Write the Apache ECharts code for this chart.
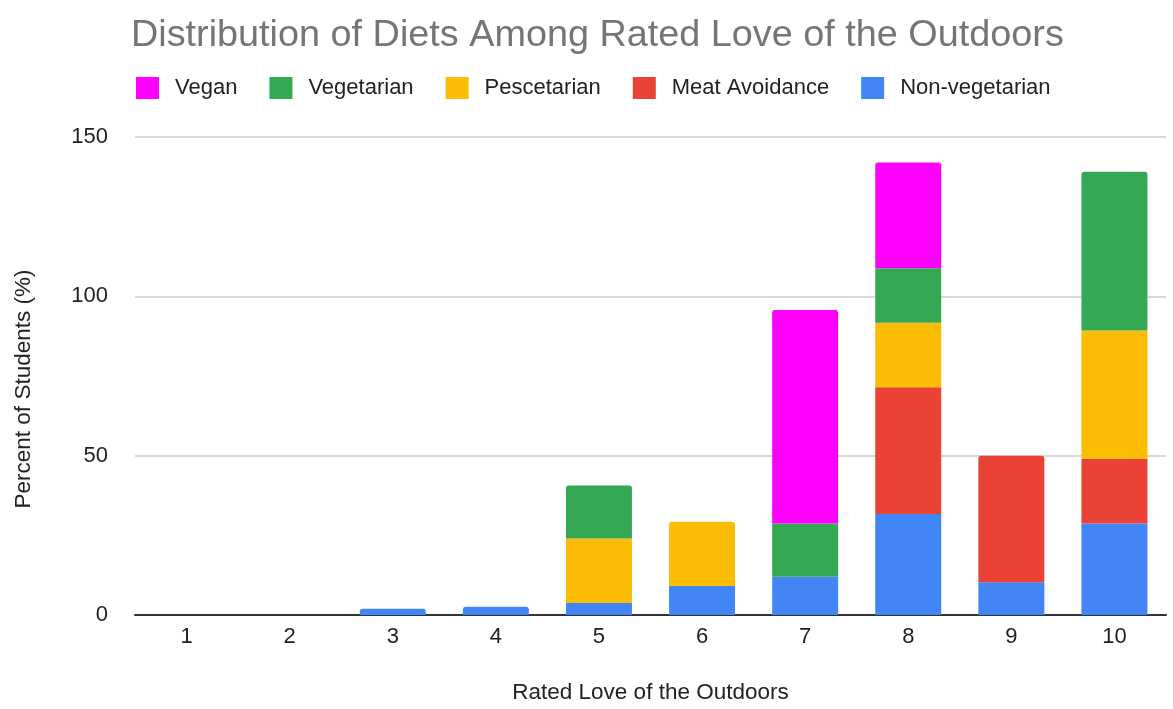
<!DOCTYPE html>
<html>
<head>
<meta charset="utf-8">
<script src="https://cdn.jsdelivr.net/npm/echarts@6/dist/echarts.min.js"></script>
<style>html,body{margin:0;padding:0;background:#fff}#c{width:1173px;height:709px}</style>
</head>
<body>
<div id="c"></div>
<script>
const categories = ['1','2','3','4','5','6','7','8','9','10'];
const nonVegetarian = [0, 0, 2.0, 2.6, 3.8, 9.1, 12.0, 31.7, 10.3, 28.7];
const meatAvoidance = [0, 0, 0, 0, 0, 0, 0, 39.8, 39.7, 20.3];
const pescetarian   = [0, 0, 0, 0, 20.2, 20.2, 0, 20.2, 0, 40.3];
const vegetarian    = [0, 0, 0, 0, 16.6, 0, 16.7, 17.1, 0, 49.8];
const vegan         = [0, 0, 0, 0, 0, 0, 67.0, 33.2, 0, 0];
const yTicks = [0, 50, 100, 150];

const FONT = '"Liberation Sans", Arial, sans-serif';
const seriesDefs = [
  { name: 'Non-vegetarian', data: nonVegetarian, color: '#4285f4' },
  { name: 'Meat Avoidance', data: meatAvoidance, color: '#ea4335' },
  { name: 'Pescetarian', data: pescetarian, color: '#fbbc04' },
  { name: 'Vegetarian', data: vegetarian, color: '#34a853' },
  { name: 'Vegan', data: vegan, color: '#ff00ff' }
];
const topIdx = categories.map((_, i) => {
  let t = -1;
  seriesDefs.forEach((s, k) => { if (s.data[i] > 0) t = k; });
  return t;
});

const chart = echarts.init(document.getElementById('c'));
chart.setOption({
  animation: false,
  backgroundColor: '#fff',
  title: {
    text: 'Distribution of Diets Among Rated Love of the Outdoors',
    left: 126, top: 12,
    textStyle: { fontFamily: FONT, fontSize: 37.8, fontWeight: 'normal', color: '#757575' }
  },
  legend: {
    data: ['Vegan', 'Vegetarian', 'Pescetarian', 'Meat Avoidance', 'Non-vegetarian'],
    left: 131, top: 72,
    itemWidth: 23, itemHeight: 22, itemGap: 32,
    icon: 'rect',
    textStyle: { fontFamily: FONT, fontSize: 22, color: '#222', padding: [0, 0, 0, 11] }
  },
  grid: { left: 135, right: 7, top: 137, bottom: 89, containLabel: false },
  xAxis: {
    type: 'category',
    data: categories,
    name: 'Rated Love of the Outdoors',
    nameLocation: 'middle', nameGap: 66,
    nameTextStyle: { fontFamily: FONT, fontSize: 22.5, color: '#222' },
    axisLine: { lineStyle: { color: '#333', width: 2 } },
    axisTick: { show: false },
    axisLabel: { fontFamily: FONT, fontSize: 22, color: '#222', margin: 11 }
  },
  yAxis: {
    type: 'value',
    min: yTicks[0], max: yTicks[yTicks.length - 1], interval: 50,
    name: 'Percent of Students (%)',
    nameLocation: 'middle', nameGap: 100,
    nameTextStyle: { fontFamily: FONT, fontSize: 22.5, color: '#222', padding: [0, 26, 0, 0] },
    axisLine: { show: false },
    axisTick: { show: false },
    splitLine: { lineStyle: { color: '#cccccc', width: 1.5 } },
    axisLabel: { fontFamily: FONT, fontSize: 22, color: '#222', margin: 27 }
  },
  series: seriesDefs.map((s, k) => ({
    name: s.name,
    type: 'bar',
    stack: 'total',
    barWidth: '64%',
    itemStyle: { color: s.color },
    data: s.data.map((v, i) => topIdx[i] === k
      ? { value: v, itemStyle: { borderRadius: [3, 3, 0, 0] } }
      : v)
  }))
});
</script>
</body>
</html>
